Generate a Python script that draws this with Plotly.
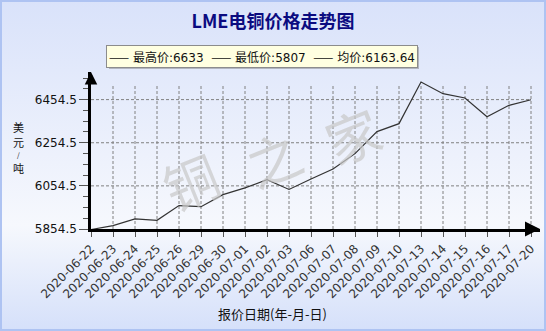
import base64
import plotly.graph_objects as go

# ---------------- data ----------------
dates = ["2020-06-22", "2020-06-23", "2020-06-24", "2020-06-25", "2020-06-26",
         "2020-06-29", "2020-06-30", "2020-07-01", "2020-07-02", "2020-07-03",
         "2020-07-06", "2020-07-07", "2020-07-08", "2020-07-09", "2020-07-10",
         "2020-07-13", "2020-07-14", "2020-07-15", "2020-07-16", "2020-07-17",
         "2020-07-20"]
prices = [5852, 5870, 5901, 5895, 5963, 5958, 6014, 6045, 6083, 6038, 6086,
          6133, 6204, 6306, 6343, 6536, 6482, 6462, 6375, 6428, 6454]
max_price = 6633
min_price = 5807
avg_price = 6163.64
y_ticks = [5854.5, 6054.5, 6254.5, 6454.5]
y_top = 6582.5
grid_top = 6525
title_text = "LME电铜价格走势图"
x_title = "报价日期(年-月-日)"
y_title_chars = ["美", "元", "/", "吨"]
watermark = ["铜", "之", "家"]

# ---------------- geometry helpers (pixel -> paper) ----------------
W, H = 546, 331
L, R, T, B = 91, 6, 72, 102
PW, PH = W - L - R, H - T - B


def px(x):
    return (x - L) / PW


def py(y):
    return 1 - (y - T) / PH


svg = ("<svg xmlns='http://www.w3.org/2000/svg' width='546' height='331'>"
       "<defs><linearGradient id='g' x1='0' y1='0' x2='0' y2='1'>"
       "<stop offset='0' stop-color='#d9e2fa'/>"
       "<stop offset='0.68' stop-color='#f6f8fd'/>"
       "<stop offset='1' stop-color='#d5e0fa'/>"
       "</linearGradient></defs>"
       "<rect width='546' height='331' fill='url(#g)'/></svg>")
bg_uri = "data:image/svg+xml;base64," + base64.b64encode(svg.encode()).decode()

FONT = "DejaVu Sans, Noto Sans CJK SC"
CJK = "Noto Sans CJK SC"

fig = go.Figure()
fig.add_trace(go.Scatter(x=dates, y=prices, mode="lines",
                         line=dict(color="#333333", width=1.2),
                         hoverinfo="skip", showlegend=False))

shapes = []
for d in dates[1:]:
    shapes.append(dict(type="line", xref="x", yref="y", x0=d, x1=d,
                       y0=y_ticks[0], y1=grid_top, layer="below",
                       line=dict(color="#808080", width=1, dash="3px,2px")))
for v in y_ticks[1:]:
    shapes.append(dict(type="line", xref="x", yref="y", x0=dates[0], x1=dates[-1],
                       y0=v, y1=v, layer="below",
                       line=dict(color="#808080", width=1, dash="3px,2px")))
shapes.append(dict(type="rect", xref="paper", yref="paper",
                   x0=px(1), x1=px(W - 1), y0=py(H - 1), y1=py(1),
                   line=dict(color="#aec3f2", width=2), layer="above"))
# legend box shadow
shapes.append(dict(type="rect", xref="paper", yref="paper",
                   x0=px(109), x1=px(419), y0=py(69), y1=py(47),
                   fillcolor="rgba(120,120,120,0.45)", line=dict(width=0),
                   layer="below"))

annotations = []
wm_pos = [(190, 180), (273, 157), (352, 134)]
for ch, (wx, wy) in zip(watermark, wm_pos):
    annotations.append(dict(text=ch, xref="paper", yref="paper", x=px(wx), y=py(wy),
                            xanchor="center", yanchor="middle",
                            showarrow=False, textangle=-22,
                            font=dict(family=CJK, size=54,
                                      color="rgba(200,200,200,0.7)")))
dash = f"<span style='font-family:{CJK}'>——</span>"
legend_text = (f"{dash} 最高价:{max_price}  {dash} 最低价:{min_price}  "
               f"{dash} 均价:{avg_price:.2f}")
annotations.append(dict(text=legend_text, xref="paper", yref="paper",
                        x=px(262), y=py(56), xanchor="center", yanchor="middle",
                        showarrow=False, bgcolor="#ffffe1",
                        bordercolor="#8c8c8c", borderwidth=1, borderpad=2,
                        font=dict(family=FONT, size=12, color="#111111")))
# y title, stacked characters
for ch, yy, sz in zip(y_title_chars, [127, 142, 155, 168], [11, 11, 7, 11]):
    annotations.append(dict(text=ch, xref="paper", yref="paper", x=px(18), y=py(yy),
                            xanchor="center", yanchor="middle", showarrow=False,
                            borderpad=0,
                            font=dict(family=CJK, size=sz, color="#111111")))
annotations.append(dict(text=x_title, xref="paper", yref="paper", x=px(272), y=py(313),
                        xanchor="center", yanchor="middle", showarrow=False,
                        font=dict(family=CJK, size=13, color="#111111")))
annotations.append(dict(text="", xref="paper", yref="paper", x=1.0, y=0,
                        ax=-12, ay=0, showarrow=True, arrowhead=2, arrowsize=1,
                        arrowwidth=3, arrowcolor="black", standoff=0))
annotations.append(dict(text="", xref="paper", yref="paper", x=0, y=1.0,
                        ax=0, ay=12, showarrow=True, arrowhead=2, arrowsize=1,
                        arrowwidth=2.5, arrowcolor="black", standoff=0))

fig.update_layout(
    width=W, height=H,
    margin=dict(l=L, r=R, t=T, b=B, pad=0),
    paper_bgcolor="#e8eefc",
    plot_bgcolor="rgba(0,0,0,0)",
    images=[dict(source=bg_uri, xref="paper", yref="paper",
                 x=px(0), y=py(0), sizex=W / PW, sizey=H / PH,
                 sizing="stretch", xanchor="left", yanchor="top", layer="below")],
    title=dict(text=f"<b>{title_text}</b>", x=0.5, xref="container", xanchor="center",
               y=1 - 22 / H, yref="container", yanchor="middle",
               font=dict(family=CJK, size=18, color="#0b0b80")),
    shapes=shapes,
    annotations=annotations,
    showlegend=False,
    xaxis=dict(type="category", range=[0, 20 + 9 / 22], showgrid=False, zeroline=False,
               showline=True, linecolor="black", linewidth=3,
               ticks="outside", ticklen=5, tickcolor="#555555", tickwidth=1,
               tickangle=-45,
               tickfont=dict(family=FONT, size=12, color="#333333")),
    yaxis=dict(range=[y_ticks[0], y_top], showgrid=False, zeroline=False,
               showline=True, linecolor="black", linewidth=2.5,
               tickmode="array", tickvals=y_ticks,
               ticktext=[f"{v:.1f}" for v in y_ticks],
               ticks="outside", ticklen=9, tickcolor="#555555", tickwidth=1,
               tickfont=dict(family=FONT, size=12, color="#111111"),
               minor=dict(tickmode="linear", tick0=y_ticks[0], dtick=50,
                          ticks="outside", ticklen=5, tickcolor="#555555",
                          showgrid=False)),
)

fig.write_html("out.html")
